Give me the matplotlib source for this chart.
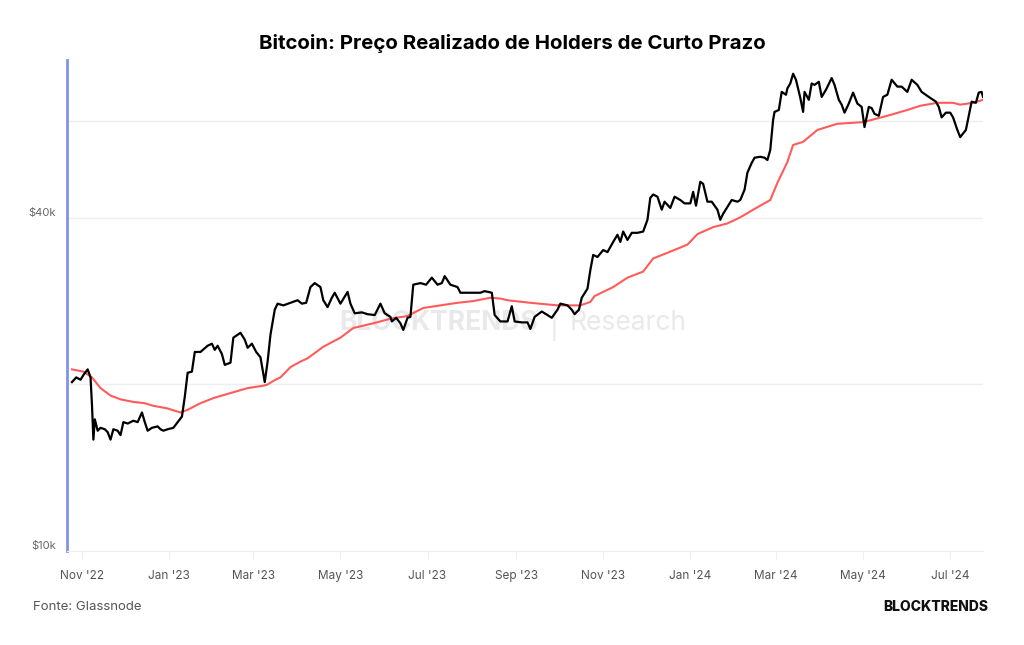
import pandas as pd
import matplotlib
matplotlib.use("Agg")
import matplotlib.pyplot as plt
import matplotlib.dates as mdates
import numpy as np

plt.rcParams["font.family"] = ["Inter", "DejaVu Sans"]

# days counted from 1 Nov 2022, prices in $k
price_days = [-7, -4, -1, 1, 4, 6, 7, 8, 9, 11, 13, 16, 18, 20, 22, 25, 27, 29, 32, 36,
              39, 42, 44, 46, 49, 53, 55, 57, 60, 64, 67, 70, 72, 74, 77, 79, 83, 88, 91, 93,
              95, 98, 100, 104, 106, 111, 114, 116, 119, 122, 125, 128, 130, 132, 135, 137, 141, 146, 151, 154,
              157, 160, 163, 167, 169, 172, 175, 177, 181, 186, 188, 191, 196, 200, 205, 209, 212, 216, 217, 220,
              223, 225, 228, 230, 232, 237, 241, 245, 249, 252, 254, 258, 263, 265, 272, 279, 282, 287, 289, 293,
              298, 301, 303, 308, 312, 314, 317, 322, 326, 329, 333, 335, 340, 343, 345, 348, 350, 354, 356, 358,
              361, 365, 368, 372, 375, 377, 379, 382, 385, 389, 393, 396, 398, 400, 403, 406, 408, 412, 415, 419,
              422, 426, 428, 430, 433, 435, 438, 441, 445, 447, 449, 452, 455, 459, 461, 464, 466, 469, 471, 475,
              478, 480, 482, 484, 485, 488, 490, 493, 494, 496, 498, 500, 503, 505, 506, 509, 511, 513, 516, 518,
              521, 525, 527, 530, 532, 534, 537, 540, 543, 546, 548, 551, 553, 555, 558, 561, 564, 567, 571, 574,
              578, 581, 585, 588, 593, 598, 600, 602, 605, 608, 610, 613, 615, 619, 621, 623, 626, 628, 630, 631]
price_k = [20.2, 20.6, 20.4, 20.8, 21.3, 20.6, 18.4, 15.9, 17.3, 16.5, 16.7, 16.6, 16.4, 15.9, 16.6, 16.5, 16.2, 17.1, 17.0, 17.2,
           17.1, 17.8, 17.1, 16.5, 16.7, 16.8, 16.6, 16.5, 16.6, 16.7, 17.1, 17.5, 19.0, 21.0, 21.1, 22.9, 22.9, 23.5, 23.7, 23.1,
           23.5, 22.7, 21.7, 21.9, 24.3, 24.8, 24.1, 23.3, 23.7, 22.9, 22.4, 20.2, 22.0, 24.6, 27.3, 28.0, 27.8, 28.1, 28.4, 28.0,
           28.1, 30.0, 30.5, 30.0, 28.4, 27.6, 28.7, 29.3, 28.0, 29.4, 28.0, 26.9, 27.0, 26.8, 26.7, 28.0, 26.9, 26.5, 26.0, 26.4,
           25.8, 25.1, 26.4, 26.5, 30.3, 30.5, 30.3, 31.2, 30.3, 30.5, 31.4, 30.3, 30.0, 29.3, 29.3, 29.3, 29.5, 29.3, 26.7, 26.0,
           26.0, 27.7, 26.0, 25.9, 25.9, 25.2, 26.5, 27.1, 26.7, 26.4, 27.3, 28.0, 27.8, 27.3, 26.8, 27.3, 28.7, 29.8, 32.2, 34.3,
           34.0, 35.0, 34.7, 36.2, 37.3, 36.2, 37.8, 36.5, 37.6, 37.6, 37.8, 39.7, 43.5, 44.1, 43.7, 41.4, 42.8, 41.7, 43.7, 43.1,
           42.5, 42.5, 44.6, 42.1, 46.5, 46.1, 42.8, 42.8, 41.4, 39.7, 40.7, 41.9, 43.1, 42.8, 43.1, 45.0, 48.3, 50.3, 51.4, 51.6,
           51.4, 50.9, 53.1, 60.2, 62.2, 62.7, 67.6, 66.8, 68.6, 70.0, 72.9, 71.1, 66.0, 62.2, 67.6, 65.4, 70.0, 69.6, 70.5, 66.2,
           68.2, 71.6, 69.6, 65.4, 64.1, 62.0, 64.4, 67.4, 64.4, 63.5, 58.4, 63.5, 63.2, 61.7, 61.2, 66.2, 66.8, 71.1, 69.1, 69.1,
           67.6, 71.1, 69.6, 67.6, 66.2, 64.9, 63.5, 60.8, 62.0, 62.0, 60.8, 57.7, 56.0, 57.7, 61.2, 64.9, 64.6, 67.4, 67.6, 66.2]

sth_days = [-7, 1, 7, 13, 20, 27, 36, 44, 50, 60, 69, 74, 83, 92, 104, 116, 127, 130, 134, 139,
            146, 153, 158, 169, 181, 190, 204, 216, 228, 239, 251, 263, 274, 286, 293, 298, 314, 333, 349, 356,
            359, 372, 382, 393, 400, 410, 424, 431, 442, 452, 461, 470, 482, 487, 494, 498, 505, 515, 529, 547,
            564, 578, 587, 599, 610, 615, 624, 631]
sth_k = [21.3, 21.1, 20.6, 19.7, 19.1, 18.8, 18.6, 18.5, 18.3, 18.1, 17.8, 18.0, 18.5, 18.9, 19.3, 19.7, 19.9, 20.0, 20.3, 20.6,
         21.5, 22.0, 22.3, 23.4, 24.3, 25.3, 25.8, 26.3, 26.6, 27.5, 27.8, 28.1, 28.3, 28.7, 28.6, 28.4, 28.1, 27.8, 27.8, 28.2,
         28.9, 30.0, 31.2, 32.0, 33.8, 34.6, 35.8, 37.4, 38.5, 39.1, 40.1, 41.4, 43.1, 46.3, 50.5, 54.2, 54.9, 57.7, 59.2, 59.6,
         61.2, 62.7, 63.8, 64.6, 64.6, 64.1, 64.6, 65.4]

ytick_vals = [10000, 40000]
ytick_labels = ["$10k", "$40k"]
grid_vals = [20000, 40000, 60000]

start = pd.Timestamp("2022-11-01")
price_dates = start + pd.to_timedelta(price_days, unit="D")
sth_dates = start + pd.to_timedelta(sth_days, unit="D")

fig = plt.figure(figsize=(10.24, 6.45), dpi=100)
ax = fig.add_axes([0.0654, 0.1457, 0.8946, 0.7613])

for g in grid_vals:
    ax.axhline(g, color="#efefef", lw=1, zorder=0)

ax.plot(sth_dates, np.array(sth_k) * 1000, color="#ff5b5b", lw=1.5, zorder=2)
ax.plot(price_dates, np.array(price_k) * 1000, color="black", lw=1.6, zorder=3)

ax.set_yscale("log")
ax.set_ylim(10000, 77200)
ax.set_xlim(start - pd.Timedelta(days=10.5), start + pd.Timedelta(days=631))

ax.yaxis.set_minor_locator(matplotlib.ticker.NullLocator())
ax.set_yticks(ytick_vals)
ax.set_yticklabels(ytick_labels)
ax.tick_params(axis="y", length=0, pad=8, labelsize=8, labelcolor="#666666")
for lab in ax.get_yticklabels():
    lab.set_verticalalignment("bottom")

ax.xaxis.set_major_locator(mdates.MonthLocator(bymonth=[1, 3, 5, 7, 9, 11]))
ax.xaxis.set_major_formatter(mdates.DateFormatter("%b '%y"))
ax.tick_params(axis="x", length=6, color="#eeeeee", labelsize=8.5, labelcolor="#555555", pad=8)

for s in ["top", "right"]:
    ax.spines[s].set_visible(False)
ax.spines["bottom"].set_color("#eeeeee")
ax.spines["left"].set_color("#8293ea")
ax.spines["left"].set_linewidth(2)

# watermark
ax.text(0.428, 0.499, "BLOCKTRENDS", transform=fig.transFigure, fontsize=19, fontweight="bold",
        color="#e9e9e9", ha="center", va="center", zorder=1)
ax.text(0.541, 0.497, "|", transform=fig.transFigure, fontsize=19, color="#e9e9e9",
        ha="center", va="center", zorder=1)
ax.text(0.613, 0.499, "Research", transform=fig.transFigure, fontsize=19, color="#e9e9e9",
        ha="center", va="center", zorder=1)

fig.text(0.5, 0.933, "Bitcoin: Preço Realizado de Holders de Curto Prazo", ha="center", va="center",
         fontsize=14.7, fontweight="bold")
fig.text(0.032, 0.059, "Fonte: Glassnode", ha="left", va="center", fontsize=9.5, color="#555555")
fig.text(0.965, 0.059, "BLOCKTRENDS", ha="right", va="center", fontsize=10, fontweight="heavy", color="#111111")

fig.savefig("out.png", dpi=100, facecolor="white")
